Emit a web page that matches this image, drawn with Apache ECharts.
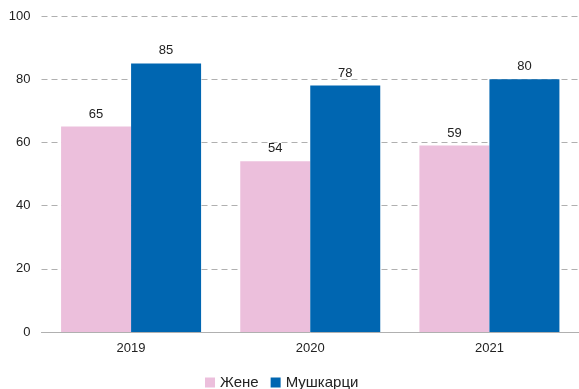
<!DOCTYPE html>
<html>
<head>
<meta charset="utf-8">
<script src="https://cdn.jsdelivr.net/npm/echarts@6/dist/echarts.min.js"></script>
<style>
  html, body { margin: 0; padding: 0; background: #fff; }
  #chart { width: 579px; height: 389px; }
</style>
</head>
<body>
<div id="chart"></div>
<script>
// Годишни вредности по пол
const years = ['2019', '2020', '2021'];
const zene = [65, 54, 59];
const muskarci = [85, 78, 80];
const seriesNames = ['Жене', 'Мушкарци'];

const font = 'Liberation Sans, Arial, sans-serif';
const chart = echarts.init(document.getElementById('chart'));

chart.setOption({
  animation: false,
  textStyle: { fontFamily: font },
  grid: { left: 41.5, width: 540, top: 16, bottom: 57 },
  legend: {
    top: 370,
    left: 200,
    itemWidth: 10,
    itemHeight: 10,
    itemGap: 12,
    icon: 'rect',
    textStyle: { fontFamily: font, fontSize: 15, color: '#222' },
    data: seriesNames
  },
  xAxis: {
    type: 'category',
    data: years,
    axisTick: { show: false },
    axisLine: { lineStyle: { color: '#b0b0b0', width: 1 } },
    axisLabel: { fontFamily: font, fontSize: 13, color: '#222', margin: 10 }
  },
  yAxis: {
    type: 'value',
    min: 0,
    max: 100,
    interval: 20,
    axisLine: { show: false },
    axisTick: { show: false },
    axisLabel: { fontFamily: font, fontSize: 13, color: '#222', margin: 11 },
    splitLine: { lineStyle: { color: '#b0b0b0', type: [6, 4], width: 1 } }
  },
  series: [
    {
      name: seriesNames[0],
      type: 'bar',
      data: zene,
      barWidth: 70,
      barGap: '0%',
      itemStyle: { color: '#ecbfdc' },
      label: { show: true, position: 'top', distance: 6, fontFamily: font, fontSize: 13, color: '#222' }
    },
    {
      name: seriesNames[1],
      type: 'bar',
      data: muskarci,
      barWidth: 70,
      barGap: '0%',
      itemStyle: { color: '#0066b1' },
      label: { show: true, position: 'top', distance: 6, fontFamily: font, fontSize: 13, color: '#222' }
    }
  ]
});
</script>
</body>
</html>
